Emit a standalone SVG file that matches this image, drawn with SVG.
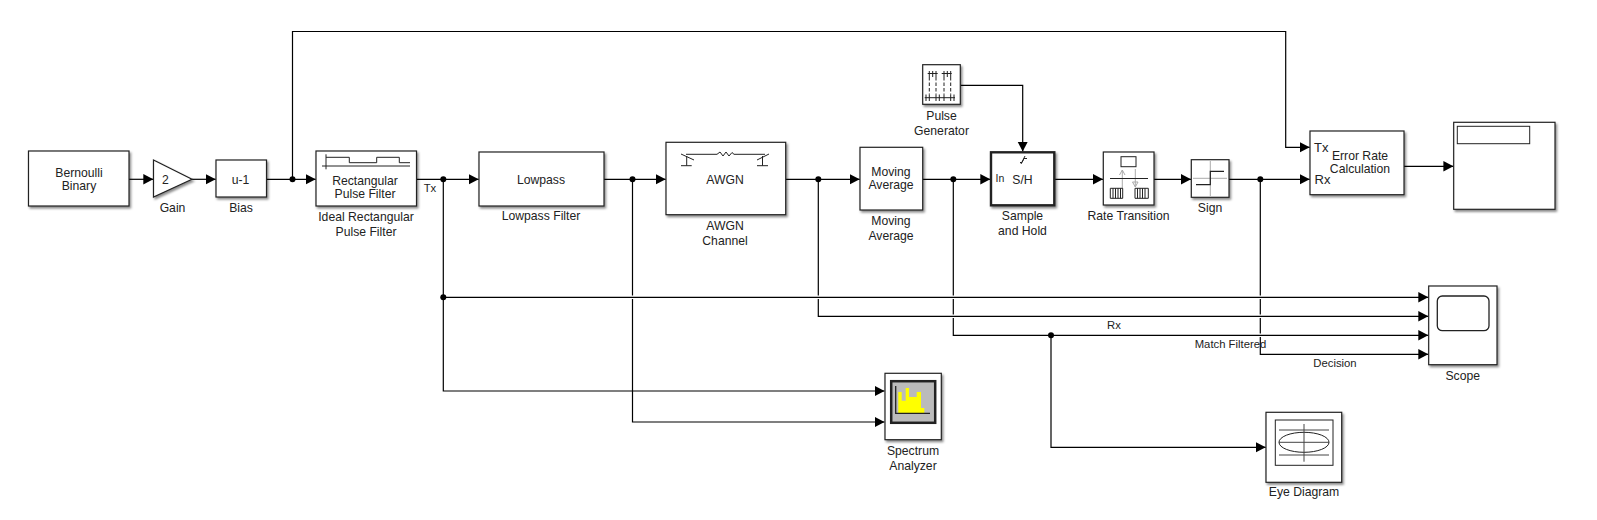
<svg xmlns="http://www.w3.org/2000/svg" width="1597" height="520" viewBox="0 0 1597 520">
<style>
text{font-family:"Liberation Sans",Arial,sans-serif;font-size:12.2px;fill:#222;text-anchor:middle}
.l{text-anchor:start}
.s{font-size:11.3px}
.b{fill:#fff;stroke:#222;stroke-width:1.2;filter:url(#sh)}
.w{fill:none;stroke:#000;stroke-width:1.2}
.h{fill:none;stroke:#fff;stroke-width:3.6}
.i{fill:none;stroke:#222;stroke-width:1}
.g{fill:none;stroke:#aaa;stroke-width:1}
</style>
<defs>
<filter id="sh" x="-10%" y="-10%" width="125%" height="125%"><feDropShadow dx="1.5" dy="2" stdDeviation="1.2" flood-color="#000" flood-opacity="0.45"/></filter>
<marker id="a" markerUnits="userSpaceOnUse" markerWidth="12" markerHeight="12" refX="10" refY="6" orient="auto"><path d="M0,0.8L10,6L0,11.2Z" fill="#000"/></marker>
</defs>
<rect width="1597" height="520" fill="#fff"/>
<g id="connectors">
<path class="w" d="M443.3,179V391H884.500" marker-end="url(#a)"/>
<path class="w" d="M632.5,179V422H884.500" marker-end="url(#a)"/>
<path class="w" d="M818.3,179V316.3H1428.300" marker-end="url(#a)"/>
<path class="w" d="M953.3,179V335.3H1428.300" marker-end="url(#a)"/>
<path class="w" d="M1260.3,179V354.3H1428.300" marker-end="url(#a)"/>
<path class="w" d="M1051,335.3V447.3H1265.700" marker-end="url(#a)"/>
<path class="h" d="M628,297.3h9M814,297.3h9M949,297.3h9M1256,297.3h9M949,316.3h9M1256,316.3h9M1256,335.3h9"/>
<path class="w" d="M443.3,297.3H1428.300" marker-end="url(#a)"/>
<path class="w" d="M949,316.3h9M1256,316.3h9M1256,335.3h9"/>
<path class="w" d="M129,179.3H153.300" marker-end="url(#a)"/>
<path class="w" d="M192,179.3H215.700" marker-end="url(#a)"/>
<path class="w" d="M266.5,179.3H315.700" marker-end="url(#a)"/>
<path class="w" d="M292.5,179.3V31.5H1285.7V147.3H1309.700" marker-end="url(#a)"/>
<path class="w" d="M416.5,179.3H478.700" marker-end="url(#a)"/>
<path class="w" d="M604,179.3H665.700" marker-end="url(#a)"/>
<path class="w" d="M785.7,179.3H859.700" marker-end="url(#a)"/>
<path class="w" d="M922.7,179.3H990.300" marker-end="url(#a)"/>
<path class="w" d="M960.3,85.3H1022.7V151.500" marker-end="url(#a)"/>
<path class="w" d="M1054.3,179.3H1103" marker-end="url(#a)"/>
<path class="w" d="M1154,179.3H1191" marker-end="url(#a)"/>
<path class="w" d="M1229,179.3H1309.700" marker-end="url(#a)"/>
<path class="w" d="M1404,166.3H1453.400" marker-end="url(#a)"/>
<g fill="#000"><circle cx="292.5" cy="179.3" r="3"/><circle cx="443.3" cy="179.3" r="3"/><circle cx="443.3" cy="297.3" r="3"/><circle cx="632.5" cy="179.3" r="3"/><circle cx="818.3" cy="179.3" r="3"/><circle cx="953.3" cy="179.3" r="3"/><circle cx="1051" cy="335.3" r="3"/><circle cx="1260.3" cy="179.3" r="3"/></g>
<text class="s" x="430" y="192">Tx</text>
<text class="s" x="1114" y="329">Rx</text>
<text class="s" x="1230.500" y="348">Match Filtered</text>
<text class="s" x="1335" y="367">Decision</text>
</g>
<g id="bernoulli"><rect class="b" x="28.5" y="151" width="100.5" height="55"/><text x="79" y="177">Bernoulli</text><text x="79" y="189.500">Binary</text></g>
<g id="gain"><path class="b" d="M153.500,160L192,179.300L153.500,197Z"/><text x="165.500" y="183.500">2</text><text x="172.500" y="212">Gain</text></g>
<g id="bias"><rect class="b" x="216" y="160" width="50.500" height="37"/><text x="240.500" y="183.500">u-1</text><text x="241" y="212">Bias</text></g>
<g id="rect-filter"><rect class="b" x="316" y="151" width="100.500" height="55"/>
<path class="i" d="M322,166H410M326,154.300V169.300M326,157.300H349.300V162.700H376.700V157.300H399.300V162.700H410"/>
<text x="365" y="185">Rectangular</text><text x="365" y="197.500">Pulse Filter</text><text x="366" y="221">Ideal Rectangular</text><text x="366" y="236">Pulse Filter</text></g>
<g id="lowpass"><rect class="b" x="479" y="152" width="125" height="54"/><text x="541" y="183.500">Lowpass</text><text x="541" y="220">Lowpass Filter</text></g>
<g id="awgn"><rect class="b" x="666" y="142.300" width="119.700" height="72.400"/>
<path class="i" d="M686,154.300H717L720,152L723,156L726,152L729,156L732,152.500L734,154.300H765M681,154L694,160M686.700,156V165.700M681,165.700H691.700M769,154L757,160M762.500,156V165.700M757,165.700H768"/>
<text x="725" y="183.500">AWGN</text><text x="725" y="230">AWGN</text><text x="725" y="245">Channel</text></g>
<g id="moving-average"><rect class="b" x="860" y="147.300" width="62.700" height="62.700"/><text x="891" y="176">Moving</text><text x="891" y="189">Average</text><text x="891" y="225">Moving</text><text x="891" y="240">Average</text></g>
<g id="pulse-generator"><rect class="b" x="922.700" y="64.700" width="37.600" height="39.600"/>
<path class="i" d="M927.700,73.500H937.700M941.700,73.500H951.700M929.300,71V77M932.700,71V77M936,71V77M944,71V77M947.300,71V77M950.700,71V77M924.700,97.700H955M926,94.500V101M929.300,94.500V101M936,94.500V101M939.300,94.500V101M944,94.500V101M950.700,94.500V101M954,94.500V101"/>
<path class="i" d="M929.300,77V94.500M936,77V94.500M944,77V94.500M950.700,77V94.500" stroke-dasharray="3.500 2"/>
<text x="941.500" y="120">Pulse</text><text x="941.500" y="135">Generator</text></g>
<g id="sample-hold"><rect class="b" x="991" y="152.300" width="63.300" height="53" style="stroke-width:2.400"/>
<path class="i" d="M1020,162.500h2l2,-4h3M1021,164l4,-8"/>
<text x="995.500" y="182" class="l" style="font-size:10.500px">In</text><text x="1022.500" y="184">S/H</text><text x="1022.500" y="220">Sample</text><text x="1022.500" y="235">and Hold</text></g>
<g id="rate-transition"><rect class="b" x="1103.300" y="152" width="50.700" height="53"/>
<rect class="i" x="1121" y="156.700" width="15" height="10"/>
<path class="g" d="M1122.300,189V170M1119.500,175L1122.300,170L1125,175M1135.300,169V187M1132.500,182L1135.300,187L1138,182Z"/>
<path class="i" d="M1110,178.500H1148" style="stroke-width:1.200"/>
<path class="i" d="M1110.300,188.300h12.400v10h-12.400zM1135,188.300h13.300v10h-13.300zM1113,188.300v10M1115.500,188.300v10M1118,188.300v10M1120.500,188.300v10M1137.500,188.300v10M1140,188.300v10M1142.500,188.300v10M1145,188.300v10"/>
<text x="1128.500" y="220">Rate Transition</text></g>
<g id="sign"><rect class="b" x="1191.300" y="159.700" width="37.700" height="37.600"/>
<path class="g" d="M1193,178.300H1227M1210.300,161V196"/><path class="i" d="M1196,184.700H1210.300V171.300H1224" style="stroke-width:1.200"/>
<text x="1210" y="212">Sign</text></g>
<g id="error-rate"><rect class="b" x="1310" y="131" width="94" height="63.700"/><text x="1314" y="152" class="l" style="font-size:13px">Tx</text><text x="1314.500" y="184" class="l" style="font-size:13px">Rx</text><text x="1360" y="159.700">Error Rate</text><text x="1360" y="172.700">Calculation</text></g>
<g id="display"><rect class="b" x="1453.700" y="122.300" width="101.300" height="87"/><rect class="i" x="1457.300" y="126.300" width="72.400" height="17.400"/></g>
<g id="scope"><rect class="b" x="1428.700" y="286" width="68.300" height="78.700"/><rect class="i" x="1437.300" y="296" width="51.700" height="34.700" rx="5" style="stroke-width:1.300"/><text x="1462.700" y="380">Scope</text></g>
<g id="spectrum"><rect class="b" x="885" y="373.300" width="56.300" height="66.400"/>
<rect x="891.200" y="381.200" width="44" height="41.600" fill="#bbb" stroke="#222" stroke-width="2.500"/>
<path d="M898.300,413V392H901.700V400.700H905.700V388H909V397H916.700V392H921V408H924.300V413Z" fill="#ff0"/>
<path class="i" d="M895.700,386V413.300H930" style="stroke-width:1.300"/>
<text x="913" y="455">Spectrum</text><text x="913" y="470">Analyzer</text></g>
<g id="eye"><rect class="b" x="1266" y="412.300" width="75.700" height="70"/><rect class="i" x="1275.300" y="420" width="57.700" height="45.300"/>
<ellipse class="i" cx="1304" cy="442.300" rx="25" ry="10"/><path class="i" d="M1279,430H1329M1279,455H1329M1279,442.300H1329M1304,424V461.700" style="stroke:#444"/>
<text x="1304" y="496">Eye Diagram</text></g>
</svg>
